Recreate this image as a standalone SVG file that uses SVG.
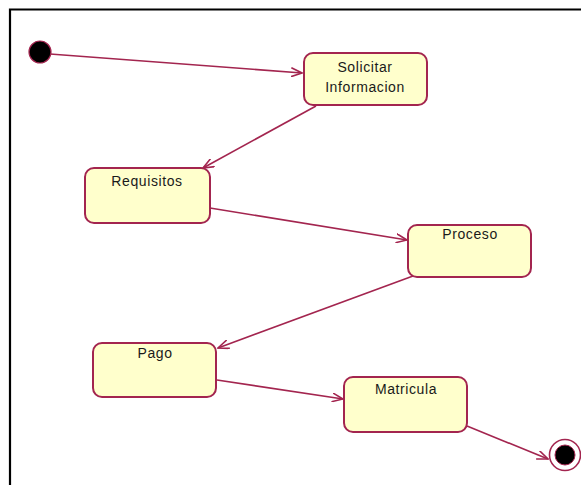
<svg xmlns="http://www.w3.org/2000/svg" width="581" height="485" viewBox="0 0 581 485">
<style>
.st rect{fill:#FFFFCC;stroke:#A3254F;stroke-width:2}
.st text{font-family:"Liberation Sans",Arial,sans-serif;font-size:14px;letter-spacing:0.6px;fill:#1a1a1a;text-anchor:middle}
.edges line{stroke:#A3254F;stroke-width:1.6;fill:none;marker-end:url(#arr)}
</style>
<defs>
<marker id="arr" viewBox="0 0 12 10" refX="11" refY="5" markerWidth="12" markerHeight="10" markerUnits="userSpaceOnUse" orient="auto">
<path d="M0,0.5 L11,5 L0,9.5" fill="none" stroke="#A3254F" stroke-width="1.6"/>
</marker>
</defs>
<rect width="581" height="485" fill="#ffffff"/>
<path d="M10,485 V9.5 H581" fill="none" stroke="#000" stroke-width="2.2"/>
<g class="edges" id="edges">
<line x1="50" y1="54" x2="302" y2="73"/>
<line x1="316" y1="106" x2="203" y2="168"/>
<line x1="210" y1="208" x2="407" y2="240"/>
<line x1="413" y1="276" x2="218" y2="348"/>
<line x1="217" y1="380" x2="343" y2="399"/>
<line x1="467" y1="426" x2="548" y2="459"/>
</g>
<g id="initial">
<circle cx="40" cy="52" r="11" fill="#000" stroke="#A3254F" stroke-width="1.2"/>
</g>
<g id="solicitar" class="st">
<rect x="304" y="53" width="123" height="52" rx="9"/>
<text x="365" y="72">Solicitar</text>
<text x="365" y="92">Informacion</text>
</g>
<g id="requisitos" class="st">
<rect x="85" y="168" width="125" height="55" rx="9"/>
<text x="147" y="186">Requisitos</text>
</g>
<g id="proceso" class="st">
<rect x="408" y="225" width="123" height="52" rx="9"/>
<text x="470" y="239">Proceso</text>
</g>
<g id="pago" class="st">
<rect x="93" y="343" width="123" height="54" rx="9"/>
<text x="155" y="358">Pago</text>
</g>
<g id="matricula" class="st">
<rect x="344" y="377" width="123" height="55" rx="9"/>
<text x="406" y="394">Matricula</text>
</g>
<g id="final">
<circle cx="565" cy="455" r="15.5" fill="#fff" stroke="#A3254F" stroke-width="1.6"/>
<circle cx="565" cy="455" r="10" fill="#000" stroke="#A3254F" stroke-width="1"/>
</g>
</svg>
